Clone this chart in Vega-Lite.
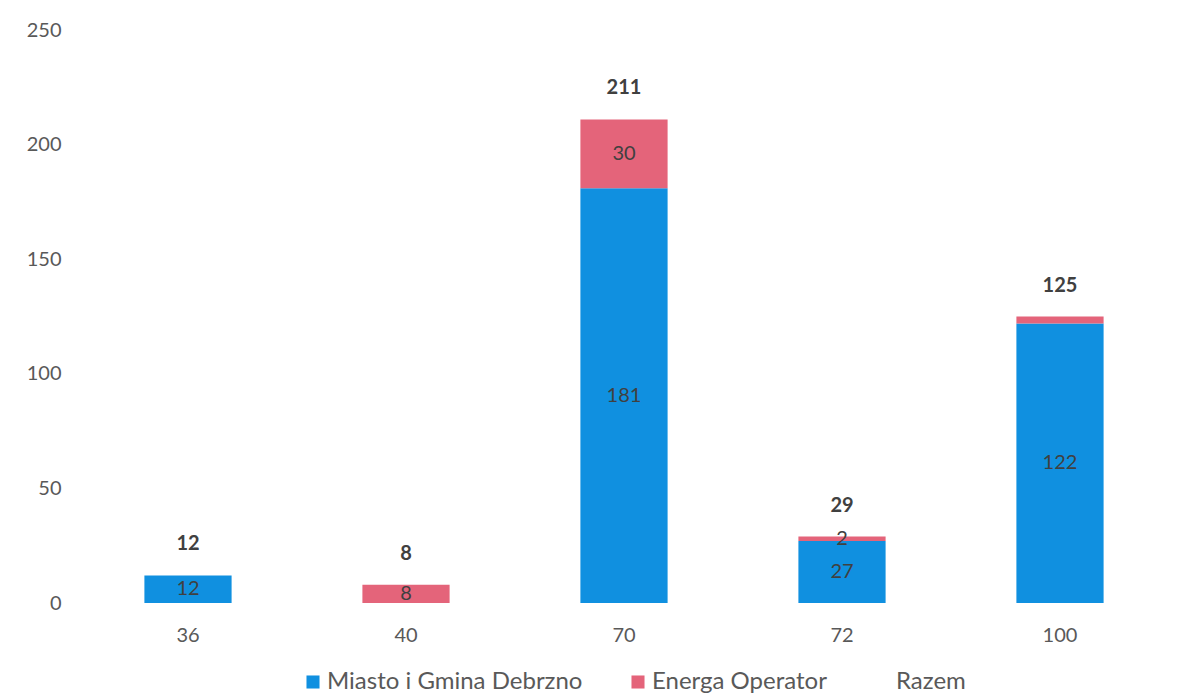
{
  "$schema": "https://vega.github.io/schema/vega-lite/v6.json",
  "width": 1090,
  "height": 573,
  "autosize": {"type": "none"},
  "padding": {"left": 79, "top": 30, "right": 23, "bottom": 94},
  "background": "white",
  "config": {"view": {"stroke": null}, "font": "Lato"},
  "datasets": {
    "segmenty": [
      {"kat": "36", "seria": "Miasto i Gmina Debrzno", "wartosc": 12, "etykieta": "12"},
      {"kat": "40", "seria": "Energa Operator", "wartosc": 8, "etykieta": "8"},
      {"kat": "70", "seria": "Miasto i Gmina Debrzno", "wartosc": 181, "etykieta": "181"},
      {"kat": "70", "seria": "Energa Operator", "wartosc": 30, "etykieta": "30"},
      {"kat": "72", "seria": "Miasto i Gmina Debrzno", "wartosc": 27, "etykieta": "27"},
      {"kat": "72", "seria": "Energa Operator", "wartosc": 2, "etykieta": "2"},
      {"kat": "100", "seria": "Miasto i Gmina Debrzno", "wartosc": 122, "etykieta": "122"},
      {"kat": "100", "seria": "Energa Operator", "wartosc": 3, "etykieta": ""}
    ],
    "sumy": [
      {"kat": "36", "razem": 12},
      {"kat": "40", "razem": 8},
      {"kat": "70", "razem": 211},
      {"kat": "72", "razem": 29},
      {"kat": "100", "razem": 125}
    ]
  },
  "layer": [
    {
      "data": {"name": "segmenty"},
      "mark": {"type": "bar"},
      "encoding": {
        "x": {
          "field": "kat", "type": "ordinal", "sort": ["36", "40", "70", "72", "100"],
          "scale": {"paddingInner": 0.6, "paddingOuter": 0.3},
          "axis": {"title": null, "domain": false, "ticks": false, "tickSize": 0, "labelAngle": 0, "labelFontSize": 20, "labelColor": "#595959", "labelPadding": 22, "grid": false}
        },
        "y": {
          "field": "wartosc", "type": "quantitative", "stack": "zero",
          "scale": {"domain": [0, 250], "nice": false},
          "axis": {"title": null, "domain": false, "ticks": false, "tickSize": 0, "grid": false, "values": [0, 50, 100, 150, 200, 250], "labelFontSize": 20, "labelColor": "#595959", "labelPadding": 18}
        },
        "color": {
          "field": "seria", "type": "nominal",
          "scale": {"domain": ["Miasto i Gmina Debrzno", "Energa Operator", "Razem"], "range": ["#1090e0", "#e4647a", "transparent"]},
          "legend": {"title": null, "orient": "none", "legendX": 222, "legendY": 640, "direction": "horizontal", "symbolType": "square", "symbolSize": 170, "symbolStrokeWidth": 0, "labelFontSize": 24, "labelLimit": 0, "labelColor": "#595959", "columnPadding": 43, "labelOffset": 2, "padding": 0}
        },
        "order": {"field": "seria", "sort": "descending"}
      }
    },
    {
      "data": {"name": "segmenty"},
      "mark": {"type": "text", "fontSize": 20, "color": "#404040"},
      "encoding": {
        "x": {"field": "kat", "type": "ordinal", "sort": ["36", "40", "70", "72", "100"]},
        "y": {"field": "wartosc", "type": "quantitative", "stack": "zero", "bandPosition": 0.5},
        "detail": {"field": "seria"},
        "order": {"field": "seria", "sort": "descending"},
        "text": {"field": "etykieta"}
      }
    },
    {
      "data": {"name": "sumy"},
      "mark": {"type": "text", "fontSize": 20, "fontWeight": "bold", "color": "#404040", "baseline": "alphabetic", "dy": -25},
      "encoding": {
        "x": {"field": "kat", "type": "ordinal", "sort": ["36", "40", "70", "72", "100"]},
        "y": {"field": "razem", "type": "quantitative"},
        "text": {"field": "razem"}
      }
    }
  ]
}
